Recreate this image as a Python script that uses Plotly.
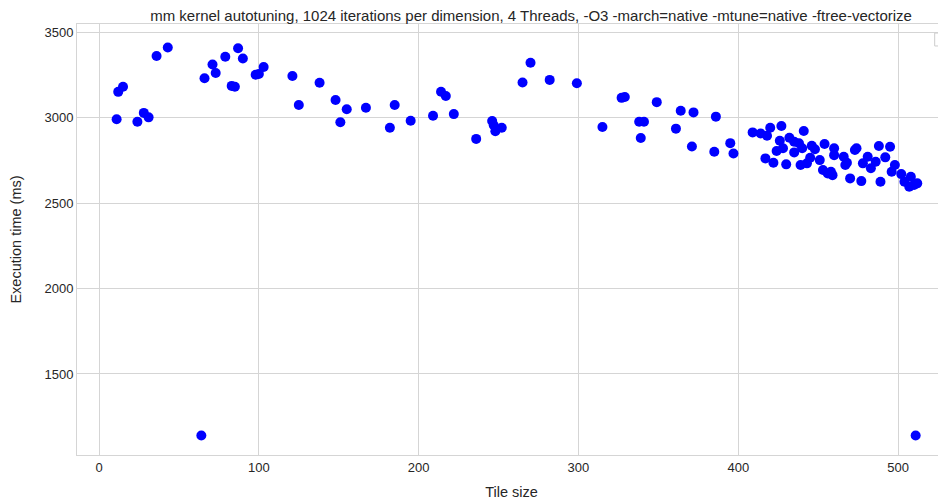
import plotly.graph_objects as go

tile_size = [11, 12, 15, 24, 28, 31, 36, 43, 64, 66, 71, 73, 79, 83, 85, 87, 90, 98, 100, 103,
             121, 125, 138, 148, 151, 155, 167, 182, 185, 195, 209, 214, 217, 222, 236, 246, 247,
             248, 252, 265, 270, 282, 299, 315, 327, 329, 338, 339, 341, 349, 361, 364, 371, 372,
             385, 386, 395, 397,
             409, 414, 418, 420, 427, 441, 426, 432, 428, 424, 435, 438, 440, 446, 448, 454, 435,
             417, 422, 430, 439, 443, 445, 451, 453, 456, 460, 474, 488, 495, 481, 492, 460, 466,
             468, 478, 486, 498, 458, 470, 477, 489, 496, 502, 508, 510, 507, 467, 483, 459, 504,
             473, 512, 511]
exec_ms = [2990, 3150, 3180, 2975, 3027, 3001, 3360, 3410, 1140, 3230, 3310, 3260, 3355, 3185,
           3180, 3405, 3345, 3250, 3255, 3295,
           3243, 3073, 3203, 3102, 2972, 3048, 3057, 2940, 3073, 2981, 3010, 3151, 3126, 3020,
           2875, 2980, 2955, 2920, 2940, 3205, 3320, 3220, 3200, 2945, 3115, 3120, 2975, 2880,
           2975, 3090, 2935, 3040, 2830, 3030, 2800, 3005, 2850, 2790,
           2913, 2907, 2893, 2940, 2950, 2921, 2864, 2882, 2820, 2804, 2858, 2849, 2820, 2835,
           2814, 2845, 2796, 2761, 2735, 2726, 2722, 2732, 2765, 2751, 2693, 2673, 2820, 2820,
           2833, 2829, 2771, 2767, 2780, 2771, 2735, 2732, 2741, 2722, 2683, 2644, 2628, 2624,
           2683, 2669, 2654, 2605, 2595, 2722, 2703, 2663, 2624, 2810, 2615, 1140]

txt = '#262626'
grid = '#d5d5d5'

fig = go.Figure(go.Scatter(x=tile_size, y=exec_ms, mode='markers',
                           marker=dict(color='#0000ff', size=10), showlegend=False))

# page body has an 8px margin, so the figure is a bit smaller than the window
fig.update_layout(
    width=938, height=495,
    margin=dict(l=69, r=0, t=16, b=48, autoexpand=False),
    plot_bgcolor='white', paper_bgcolor='white',
    font=dict(family='Liberation Sans, Arial', size=13, color=txt),
    title=dict(text='mm kernel autotuning, 1024 iterations per dimension, 4 Threads, -O3 -march=native -mtune=native -ftree-vectorize',
               x=0.5576, xanchor='center', xref='container', y=0.994, yanchor='top',
               yref='container', automargin=False, font=dict(size=15, color=txt)),
    xaxis=dict(range=[-13.8, 530], tickvals=[0, 100, 200, 300, 400, 500], showgrid=True,
               gridcolor=grid, gridwidth=1, zeroline=False, showline=True, linecolor=grid,
               mirror=True, ticks='', automargin=False, tickfont=dict(size=13),
               title=dict(text='Tile size', standoff=13, font=dict(size=14.5))),
    yaxis=dict(range=[1026, 3547], tickvals=[1500, 2000, 2500, 3000, 3500], showgrid=True,
               gridcolor=grid, gridwidth=1, zeroline=False, showline=True, linecolor=grid,
               ticks='', automargin=False, tickfont=dict(size=13),
               title=dict(text='Execution time (ms)', standoff=19, font=dict(size=14.5))),
    shapes=[dict(type='rect', xref='paper', yref='paper', x0=0.987, x1=1.02, y0=0.949, y1=0.979,
                 line=dict(color='#cccccc', width=1), fillcolor='white', layer='above')],
)

fig.write_html("out.html")
